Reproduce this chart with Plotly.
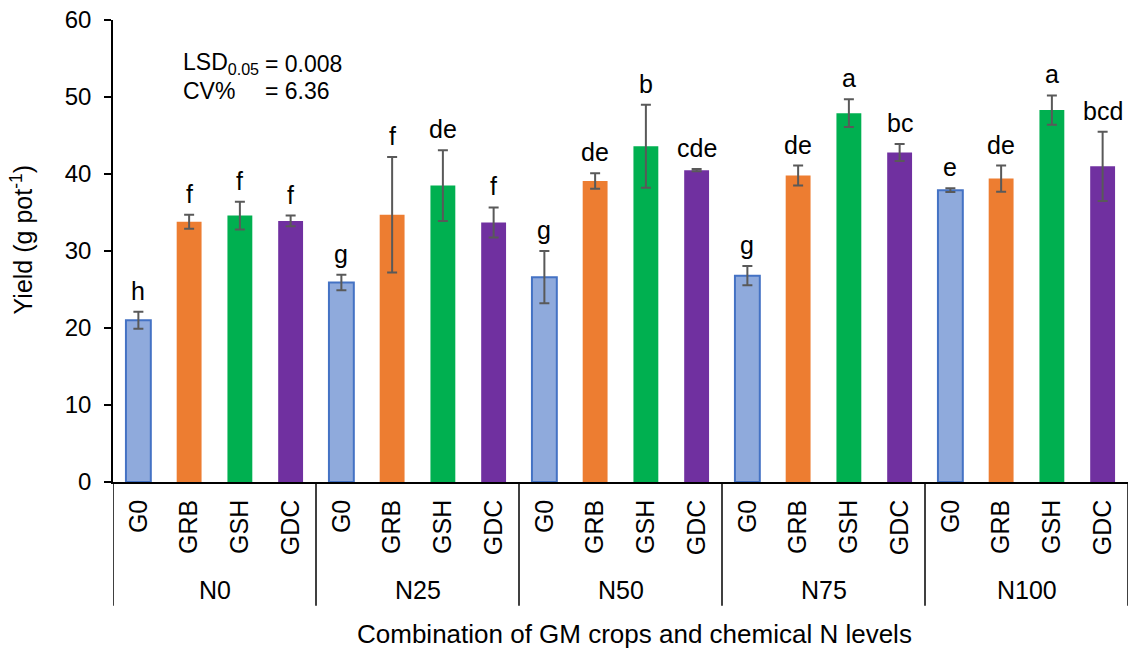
import plotly.graph_objects as go

# Treatment structure
n_levels = ["N0", "N25", "N50", "N75", "N100"]
gm_crops = ["G0", "GRB", "GSH", "GDC"]

# Mean yield (g pot-1) for each GM crop across the N levels
yield_g0 = [21.0, 25.9, 26.6, 26.8, 37.9]
yield_grb = [33.8, 34.7, 39.1, 39.8, 39.4]
yield_gsh = [34.6, 38.5, 43.6, 47.9, 48.3]
yield_gdc = [33.9, 33.7, 40.5, 42.8, 41.0]

# Error bar half-lengths
err_g0 = [1.1, 1.0, 3.4, 1.25, 0.25]
err_grb = [0.9, 7.5, 1.0, 1.3, 1.7]
err_gsh = [1.8, 4.6, 5.4, 1.8, 1.9]
err_gdc = [0.7, 1.95, 0.15, 1.1, 4.5]

# Mean separation letters
letters_g0 = ["h", "g", "g", "g", "e"]
letters_grb = ["f", "f", "de", "de", "de"]
letters_gsh = ["f", "de", "b", "a", "a"]
letters_gdc = ["f", "f", "cde", "bc", "bcd"]

lsd_text = "0.008"
cv_text = "6.36"

series = [
    (yield_g0, err_g0, letters_g0, "#8FAADC", "#4472C4", 2),
    (yield_grb, err_grb, letters_grb, "#ED7D31", "#ED7D31", 0),
    (yield_gsh, err_gsh, letters_gsh, "#00B050", "#00B050", 0),
    (yield_gdc, err_gdc, letters_gdc, "#7030A0", "#7030A0", 0),
]

FONT = "Liberation Sans, Arial, sans-serif"
n_crop = len(gm_crops)
n_total = len(n_levels) * n_crop

fig = go.Figure()
annotations = []
for k, (vals, errs, letters, fill, edge, lw) in enumerate(series):
    xs = [g * n_crop + k for g in range(len(n_levels))]
    fig.add_trace(go.Bar(
        x=xs, y=vals, width=0.49,
        marker=dict(color=fill, line=dict(color=edge, width=lw)),
        error_y=dict(type="data", array=errs, visible=True,
                     color="#595959", thickness=2, width=5),
        showlegend=False,
    ))
    for x, v, e, t in zip(xs, vals, errs, letters):
        annotations.append(dict(
            x=x, y=v + e, xref="x", yref="y", text=t, showarrow=False,
            yanchor="bottom", yshift=5, font=dict(size=25, color="black", family=FONT),
        ))

# Group separators below the axis
sep_depth = -0.268
shapes = []
for g in range(len(n_levels) + 1):
    xb = g * n_crop - 0.5
    shapes.append(dict(type="line", xref="x", yref="paper", x0=xb, x1=xb,
                       y0=0, y1=sep_depth, line=dict(color="black", width=1.5)))

# Group labels
for g, name in enumerate(n_levels):
    annotations.append(dict(
        x=g * n_crop + (n_crop - 1) / 2, y=-0.234, xref="x", yref="paper",
        text=name, showarrow=False, yanchor="middle",
        font=dict(size=25, color="black", family=FONT),
    ))

# Axis titles
annotations.append(dict(
    x=0.514, y=-0.329, xref="paper", yref="paper", yanchor="middle",
    text="Combination of GM crops and chemical N levels", showarrow=False,
    font=dict(size=26, color="black", family=FONT),
))
annotations.append(dict(
    x=-0.0897, y=0.525, xref="paper", yref="paper", textangle=-90,
    text="Yield (g pot<sup>-1</sup>)", showarrow=False,
    xanchor="center", yanchor="middle",
    font=dict(size=25, color="black", family=FONT),
))

# Statistics box
stat_font = dict(size=23, color="black", family=FONT)
annotations += [
    dict(x=0.067, y=0.905, xref="paper", yref="paper", xanchor="left", yanchor="middle",
         text="LSD<sub>0.05</sub>", showarrow=False, font=stat_font),
    dict(x=0.148, y=0.905, xref="paper", yref="paper", xanchor="left", yanchor="middle",
         text="= " + lsd_text, showarrow=False, font=stat_font),
    dict(x=0.067, y=0.846, xref="paper", yref="paper", xanchor="left", yanchor="middle",
         text="CV%", showarrow=False, font=stat_font),
    dict(x=0.148, y=0.846, xref="paper", yref="paper", xanchor="left", yanchor="middle",
         text="= " + cv_text, showarrow=False, font=stat_font),
]

tick_names = [gm_crops[i % n_crop] for i in range(n_total)]

fig.update_layout(
    width=1131, height=650,
    margin=dict(l=113, r=3, t=20, b=168),
    paper_bgcolor="white", plot_bgcolor="white",
    bargap=0.5,
    font=dict(family=FONT, color="black"),
    xaxis=dict(
        range=[-0.5, n_total - 0.5], tickmode="array",
        tickvals=list(range(n_total)), ticktext=tick_names,
        tickangle=-90, ticks="", showline=True, linecolor="black", linewidth=1.5,
        showgrid=False, zeroline=False, ticklabelstandoff=6,
        tickfont=dict(size=25, color="black", family=FONT),
    ),
    yaxis=dict(
        range=[0, 60], dtick=10, ticks="outside", ticklen=7, tickwidth=1.5,
        tickcolor="black", showline=True, linecolor="black", linewidth=1.5,
        showgrid=False, zeroline=False, ticklabelstandoff=8,
        tickfont=dict(size=24, color="black", family=FONT),
    ),
    shapes=shapes,
    annotations=annotations,
)

fig.write_html("out.html")
